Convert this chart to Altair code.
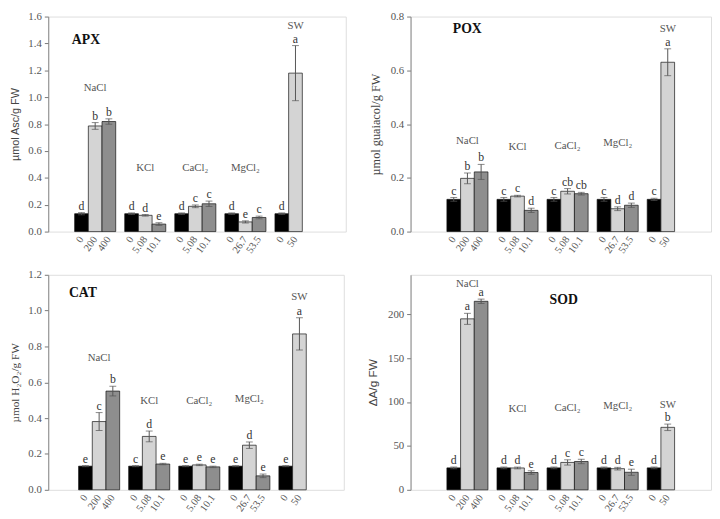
import altair as alt
import pandas as pd

groups = ["NaCl", "KCl", "CaCl₂", "MgCl₂", "SW"]
concs = [["0", "200", "400"], ["0", "5.08", "10.1"], ["0", "5.08", "10.1"], ["0", "26.7", "53.5"], ["0", "50"]]
slots = ["s0", "s1", "s2"]

apx_values = [0.133, 0.786, 0.819, 0.133, 0.121, 0.056, 0.133, 0.188, 0.207, 0.133, 0.072, 0.105, 0.133, 1.179]
apx_errors = [0.008, 0.025, 0.02, 0.006, 0.006, 0.01, 0.006, 0.01, 0.02, 0.006, 0.008, 0.01, 0.006, 0.205]
apx_letters = ["d", "b", "b", "d", "d", "e", "d", "c", "c", "d", "e", "c", "d", "a"]
apx_label_y = [1.07, 0.47, 0.47, 0.47, 1.53]

pox_values = [0.120, 0.198, 0.222, 0.120, 0.132, 0.079, 0.120, 0.150, 0.141, 0.120, 0.085, 0.098, 0.120, 0.630]
pox_errors = [0.007, 0.02, 0.028, 0.007, 0.003, 0.008, 0.007, 0.01, 0.005, 0.007, 0.007, 0.008, 0.004, 0.05]
pox_letters = ["c", "b", "b", "c", "c", "d", "c", "cb", "cb", "c", "d", "d", "c", "a"]
pox_label_y = [0.335, 0.315, 0.317, 0.33, 0.755]

cat_values = [0.132, 0.381, 0.551, 0.132, 0.298, 0.144, 0.132, 0.139, 0.128, 0.132, 0.249, 0.078, 0.132, 0.870]
cat_errors = [0.003, 0.05, 0.027, 0.003, 0.03, 0.004, 0.003, 0.004, 0.004, 0.003, 0.018, 0.01, 0.003, 0.09]
cat_letters = ["e", "c", "b", "c", "d", "e", "e", "e", "e", "e", "d", "e", "e", "a"]
cat_label_y = [0.736, 0.493, 0.493, 0.507, 1.075]

sod_values = [25, 194.8, 214.8, 25, 24.9, 19.7, 25, 31.2, 32.3, 25, 24.1, 20, 25, 71.2]
sod_errors = [1, 6.3, 2.5, 1, 1, 2, 1, 3, 2.5, 1, 1.5, 3.5, 1, 3.7]
sod_letters = ["d", "a", "a", "d", "d", "e", "d", "c", "c", "d", "d", "e", "d", "b"]
sod_label_y = [235, 92, 93.5, 95, 97]

SERIF = "Liberation Serif, DejaVu Serif, serif"
SANS = "Liberation Sans, DejaVu Sans, sans-serif"


def make_table(values, errors, letters):
    rows = []
    i = 0
    for g, cl in zip(groups, concs):
        for s, c in enumerate(cl):
            rows.append(dict(group=g, slot=slots[s], conc=c, value=values[i],
                             lo=values[i] - errors[i], hi=values[i] + errors[i],
                             letter=letters[i]))
            i += 1
    return pd.DataFrame(rows)


def panel(values, errors, letters, label_y, ymax, ticks, fmt, ytitle, yfont, ysize,
          name, name_x, name_y, name_align, width, height, align):
    df = make_table(values, errors, letters)
    gdf = pd.DataFrame({"group": groups, "ly": label_y})
    step = 51
    po = (width / step - (5 - 0.18)) / 2
    xs = alt.Scale(domain=groups, paddingInner=0.18, paddingOuter=po, align=align, round=False)
    x = alt.X("group:N", scale=xs, axis=None, sort=groups)
    xo = alt.XOffset("slot:N", scale=alt.Scale(domain=slots, paddingInner=0, paddingOuter=0))
    ys = alt.Scale(domain=[0, ymax], nice=False, zero=True)
    yaxis = alt.Axis(values=ticks, format=fmt, title=ytitle, grid=False, tickSize=4,
                     labelOverlap=False, tickCount=len(ticks),
                     tickColor="#777", domainColor="#888", labelColor="#555",
                     labelFont=SERIF, labelFontSize=11, labelPadding=3,
                     titleFont=yfont, titleFontSize=ysize, titleFontWeight="normal",
                     titleColor="#444", titlePadding=8)

    def Y(f):
        return alt.Y(f, type="quantitative", scale=ys, axis=yaxis)

    base = alt.Chart(df)
    bars = base.mark_bar(stroke="#111", strokeWidth=0.7).encode(
        x=x, xOffset=xo, y=Y("value"),
        fill=alt.Fill("slot:N", scale=alt.Scale(domain=slots, range=["#000000", "#d4d4d4", "#8e8e8e"]),
                      legend=None))
    err = base.mark_rule(color="#555", strokeWidth=1).encode(x=x, xOffset=xo, y=Y("lo"), y2=alt.Y2("hi"))
    cap_hi = base.mark_tick(color="#555", size=7, thickness=1).encode(x=x, xOffset=xo, y=Y("hi"))
    cap_lo = base.mark_tick(color="#555", size=7, thickness=1).encode(x=x, xOffset=xo, y=Y("lo"))
    lets = base.mark_text(baseline="bottom", dy=0, font=SERIF, fontSize=12, color="#333").encode(
        x=x, xOffset=xo, y=Y("hi"), text="letter:N")
    conc = base.mark_text(angle=305, align="right", baseline="middle", dx=-5, dy=3.5,
                          font=SERIF, fontSize=10.5, color="#555").encode(
        x=x, xOffset=xo, y=alt.datum(0), text="conc:N")
    glab = alt.Chart(gdf).mark_text(baseline="middle", font=SERIF, fontSize=11, color="#555").encode(
        x=x, y=Y("ly"), text="group:N")
    ttl = alt.Chart(pd.DataFrame({"t": [name]})).mark_text(
        align=name_align, baseline="middle", font=SERIF, fontSize=14, fontWeight="bold", color="#111").encode(
        text="t:N", x=alt.value(name_x), y=alt.value(name_y))
    return alt.layer(bars, err, cap_hi, cap_lo, lets, conc, glab, ttl).properties(width=width, height=height)


apx = panel(apx_values, apx_errors, apx_letters, apx_label_y, 1.6,
            [0, 0.2, 0.4, 0.6, 0.8, 1.0, 1.2, 1.4, 1.6], ".1f", "µmol Asc/g FW", SANS, 11,
            "APX", 24, 24, "left", 303, 219, 0.47)
pox = panel(pox_values, pox_errors, pox_letters, pox_label_y, 0.8,
            [0, 0.2, 0.4, 0.6, 0.8], ".1f", "µmol guaiacol/g FW", SERIF, 12.5,
            "POX", 43, 13, "left", 306, 219, 0.615)
cat = panel(cat_values, cat_errors, cat_letters, cat_label_y, 1.2,
            [0, 0.2, 0.4, 0.6, 0.8, 1.0, 1.2], ".1f", "µmol H₂O₂/g FW", SERIF, 11.5,
            "CAT", 21, 19, "left", 301, 219, 0.56)
sod = panel(sod_values, sod_errors, sod_letters, sod_label_y, 245,
            [0, 50, 100, 150, 200], "d", "ΔA/g FW", SANS, 12,
            "SOD", 156, 26, "center", 306, 219, 0.615)

chart = alt.vconcat(
    alt.hconcat(apx, pox, spacing=22),
    alt.hconcat(cat, sod, spacing=22),
    spacing=12,
).properties(padding={"top": -3, "left": 0, "right": 0, "bottom": 0}).configure_view(
    stroke="#999", strokeWidth=1).configure(background="white")

chart.save("out.html", embed_options={"renderer": "svg", "actions": False})
